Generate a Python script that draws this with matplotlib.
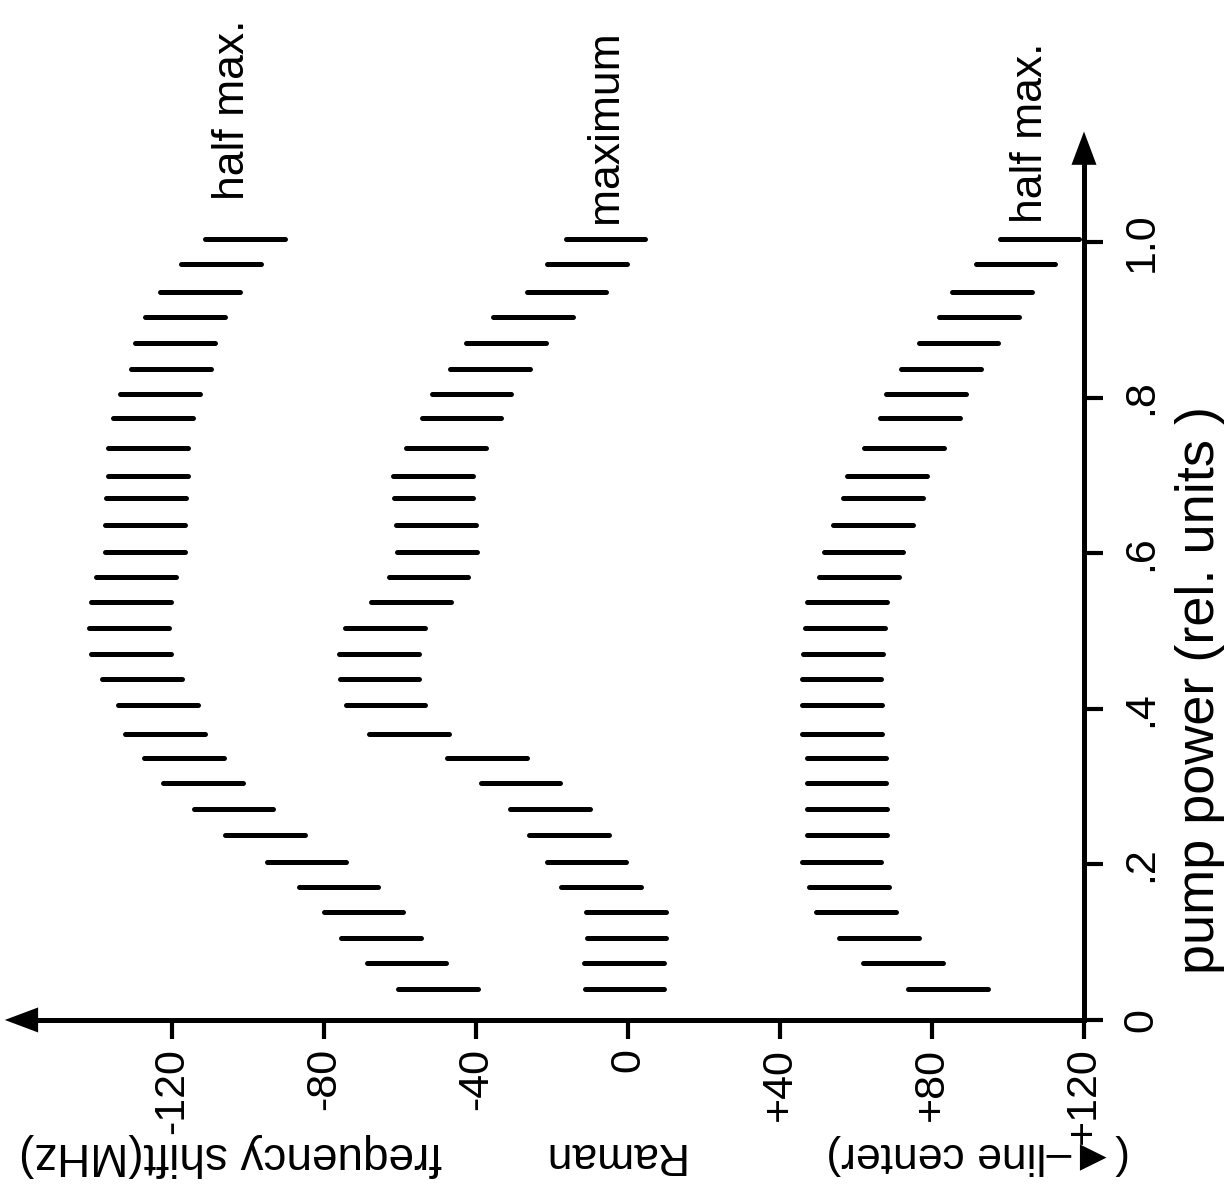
import numpy as np
import matplotlib
matplotlib.use("Agg")
import matplotlib.pyplot as plt

# pump power of each measurement row (rel. units), top row first
pump = [1.004, 0.972, 0.936, 0.904, 0.870, 0.837, 0.805, 0.774, 0.735, 0.699,
        0.671, 0.636, 0.602, 0.569, 0.537, 0.504, 0.470, 0.438, 0.405, 0.368,
        0.337, 0.305, 0.271, 0.238, 0.203, 0.171, 0.139, 0.105, 0.073, 0.040]

# centre of each measured interval (MHz from line centre)
half_max_low = [-100.7, -107.0, -112.6, -116.6, -119.2, -120.3, -123.2, -125.0, -126.3, -126.3,
                -126.8, -127.1, -127.1, -129.5, -130.8, -131.3, -130.8, -127.9, -123.7, -121.8,
                -116.8, -111.8, -103.8, -95.5, -84.6, -76.2, -69.6, -65.1, -58.3, -50.1]
maximum = [-5.9, -10.8, -16.2, -24.9, -32.2, -36.4, -41.2, -43.8, -47.8, -51.4,
           -51.2, -50.5, -50.3, -52.5, -57.2, -63.9, -65.5, -65.4, -63.8, -57.6,
           -37.2, -28.3, -20.5, -15.5, -10.9, -7.2, -0.5, -0.4, -1.1, -0.9]
half_max_high = [108.3, 102.0, 95.7, 92.4, 87.0, 82.4, 78.4, 76.8, 72.6, 68.2,
                 67.1, 64.5, 62.0, 60.8, 57.6, 57.1, 56.6, 56.2, 56.3, 56.4,
                 57.5, 57.5, 57.6, 57.6, 56.2, 58.2, 59.9, 66.1, 72.4, 84.2]
interval = 21.0  # MHz, width of each bar

freq_ticks = [-120, -80, -40, 0, 40, 80, 120]
freq_labels = ['-120', '-80', '-40', '0', '+40', '+80', '+120']
pump_ticks = [0, 0.2, 0.4, 0.6, 0.8, 1.0]
pump_labels = ['0', '.2', '.4', '.6', '.8', '1.0']

plt.rcParams['font.family'] = ['Liberation Sans', 'DejaVu Sans']
fs_tick = 31
fs_text = 32

fig = plt.figure(figsize=(12.26, 11.87), dpi=100)
ax = fig.add_axes([0, 0, 1, 1])
ax.set_xlim(-165.26, 157.37)
ax.set_ylim(-0.2147, 1.311)

lw = 3.6
for c in (half_max_low, maximum, half_max_high):
    c = np.array(c)
    ax.hlines(pump, c - interval / 2, c + interval / 2, color='black', lw=lw, capstyle='round')

# axes crossing at (+120 MHz, 0)
for s in ('top', 'left'):
    ax.spines[s].set_visible(False)
ax.spines['bottom'].set_position(('data', 0))
ax.spines['right'].set_position(('data', 120))
ax.spines['bottom'].set_bounds(-158, 120)
ax.spines['right'].set_bounds(0, 1.12)
for s in ('bottom', 'right'):
    ax.spines[s].set_linewidth(3.6)

ax.set_xticks(freq_ticks)
ax.set_xticklabels(freq_labels, rotation=90, fontsize=fs_tick)
ax.yaxis.tick_right()
ax.set_yticks(pump_ticks)
ax.set_yticklabels(pump_labels, rotation=90, fontsize=fs_tick, va='center')
ax.tick_params(axis='x', direction='out', length=14, width=3, pad=6)
ax.tick_params(axis='y', direction='out', length=14, width=3, pad=13)

head = dict(arrowstyle='-|>,head_length=1.2,head_width=0.45', mutation_scale=20,
            lw=0, fc='black', ec='black', shrinkA=0, shrinkB=0)
ax.annotate('', xy=(-164, 0), xytext=(-150, 0), arrowprops=head)
ax.annotate('', xy=(120, 1.142), xytext=(120, 1.10), arrowprops=head)

ax.text(-104.2, 1.054, 'half max.', rotation=90, ha='center', va='bottom', fontsize=fs_text)
ax.text(-6.05, 1.025, 'maximum', rotation=90, ha='center', va='bottom', fontsize=fs_text)
ax.text(105.8, 1.025, 'half max.', rotation=90, ha='center', va='bottom', fontsize=fs_text)

ax.text(150.5, 0.424, 'pump power (rel. units )', rotation=90, ha='center', va='center', fontsize=39)
ax.text(-4.2, -0.1735, 'Raman', rotation=180, ha='center', va='center', fontsize=fs_text)
ax.text(-104.5, -0.1735, 'frequency shift(MHz)', rotation=180, ha='center', va='center', fontsize=33)
ax.text(92.1, -0.1735, '(\u25c4\u2013line center)', rotation=180, ha='center', va='center', fontsize=fs_text)

fig.savefig('out.png', dpi=100)
